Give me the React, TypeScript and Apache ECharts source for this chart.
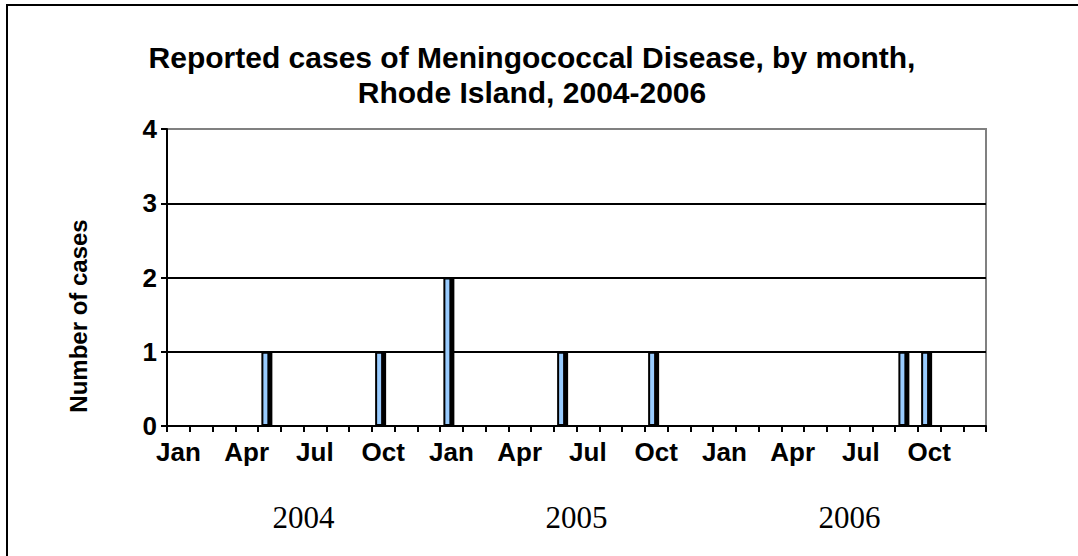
import React, { useEffect, useRef } from "react";
import * as echarts from "echarts";

const monthNames = ["Jan", "Feb", "Mar", "Apr", "May", "Jun", "Jul", "Aug", "Sep", "Oct", "Nov", "Dec"];
const years = ["2004", "2005", "2006"];
const months = years.flatMap((y) => monthNames.map((m) => `${m} ${y}`));

const cases2004 = [0, 0, 0, 0, 1, 0, 0, 0, 0, 1, 0, 0];
const cases2005 = [2, 0, 0, 0, 0, 1, 0, 0, 0, 1, 0, 0];
const cases2006 = [0, 0, 0, 0, 0, 0, 0, 0, 1, 1, 0, 0];
const cases = [...cases2004, ...cases2005, ...cases2006];
const emptySeries = months.map(() => null);

const yTicks = { min: 0, max: 4, interval: 1 };

const ARIAL = "Arial, 'Liberation Sans', sans-serif";

export default function App() {
  const ref = useRef<HTMLDivElement>(null);
  useEffect(() => {
    if (!ref.current) return;
    const chart = echarts.init(ref.current, null, { renderer: "svg" });
    chart.setOption({
      animation: false,
      backgroundColor: "#fff",
      title: {
        text: "Reported cases of Meningococcal Disease, by month,\nRhode Island, 2004-2006",
        left: 527,
        textAlign: "center",
        top: 35,
        textStyle: {
          fontFamily: ARIAL,
          fontWeight: "bold",
          fontSize: 30,
          lineHeight: 35,
          color: "#000",
        },
      },
      graphic: [
        {
          type: "rect",
          shape: { x: 7, y: 5, width: 1200, height: 700 },
          style: { fill: "none", stroke: "#000", lineWidth: 2 },
          silent: true,
        },
        {
          type: "text",
          x: 78,
          y: 316,
          rotation: Math.PI / 2,
          style: {
            text: "Number of cases",
            fontFamily: ARIAL,
            fontWeight: "bold",
            fontSize: 24,
            fill: "#000",
            align: "center",
            verticalAlign: "middle",
          },
          silent: true,
        },
      ],
      grid: {
        left: 167,
        right: 92,
        top: 129,
        bottom: 130,
        show: true,
        borderColor: "#808080",
        borderWidth: 2,
        backgroundColor: "#fff",
      },
      xAxis: [
        {
          type: "category",
          data: months,
          boundaryGap: true,
          axisLine: { show: true, lineStyle: { color: "#000", width: 2 } },
          axisTick: { show: true, interval: 0, alignWithLabel: false, length: 6, lineStyle: { color: "#000", width: 2 } },
          axisLabel: {
            interval: 2,
            margin: 13,
            formatter: (v: string) => v.split(" ")[0],
            fontFamily: ARIAL,
            fontWeight: "bold",
            fontSize: 26,
            color: "#000",
          },
          splitLine: { show: false },
        },
        {
          type: "category",
          data: years,
          position: "bottom",
          offset: 74,
          axisLine: { show: false },
          axisTick: { show: false },
          axisLabel: {
            margin: 2,
            fontFamily: "'Times New Roman', 'Liberation Serif', serif",
            fontSize: 31,
            color: "#000",
          },
        },
      ],
      yAxis: {
        type: "value",
        min: yTicks.min,
        max: yTicks.max,
        interval: yTicks.interval,
        axisLine: { show: true, lineStyle: { color: "#000", width: 2 } },
        axisTick: { show: true, length: 6, lineStyle: { color: "#000", width: 2 } },
        axisLabel: {
          margin: 10,
          fontFamily: ARIAL,
          fontWeight: "bold",
          fontSize: 26,
          color: "#000",
        },
        splitLine: { show: true, showMaxLine: false, lineStyle: { color: "#000", width: 2 } },
      },
      series: [
        {
          name: "Cases",
          type: "bar",
          data: cases,
          barWidth: 8,
          barGap: "0%",
          itemStyle: {
            color: "#99ccff",
            borderColor: "#000",
            borderWidth: 2,
            shadowColor: "#000",
            shadowOffsetX: 3,
            shadowOffsetY: 0,
            shadowBlur: 0,
          },
        },
        {
          name: "Other",
          type: "bar",
          data: emptySeries,
          barWidth: 8,
          barGap: "0%",
        },
      ],
    });
    return () => chart.dispose();
  }, []);
  return (
    <div
      ref={ref}
      style={{ position: "fixed", left: 0, top: 0, width: 1078, height: 556 }}
    />
  );
}
